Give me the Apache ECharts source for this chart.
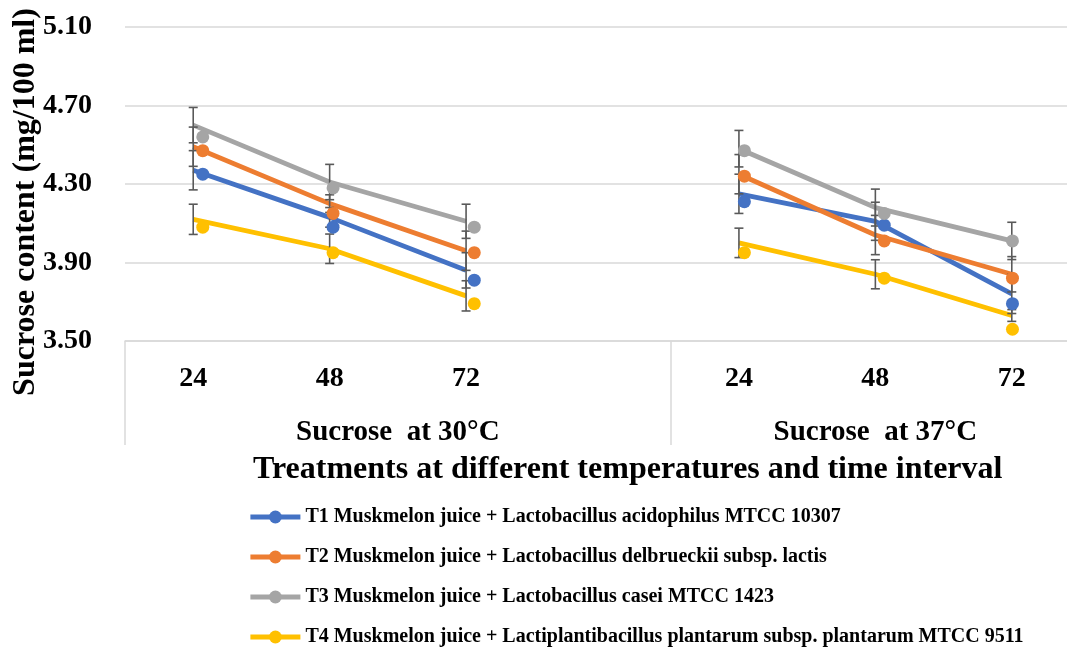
<!DOCTYPE html>
<html lang="en">
<head>
<meta charset="UTF-8">
<title>sucrose</title>
<script src="https://cdn.jsdelivr.net/npm/echarts@6.0.0/dist/echarts.min.js"></script>
<style>html,body{margin:0;padding:0;background:#fff;}</style>
</head>
<body>
<div id="main" style="width:1067px;height:647px;"></div>
<script type="text/javascript">
// category slots: 24,48,72 at 30°C, one empty slot, then 24,48,72 at 37°C
var hours = ['24', '48', '72', '', '24', '48', '72'];
var groups = ['Sucrose  at 30°C', 'Sucrose  at 37°C'];
var names = [
    'T1 Muskmelon juice + Lactobacillus acidophilus MTCC 10307',
    'T2 Muskmelon juice + Lactobacillus delbrueckii subsp. lactis',
    'T3 Muskmelon juice + Lactobacillus casei MTCC 1423',
    'T4 Muskmelon juice + Lactiplantibacillus plantarum subsp. plantarum MTCC 9511'
];
var colors = ['#4472C4', '#ED7D31', '#A5A5A5', '#FFC000'];

// x slot of each point (line + error bar) and of the round markers
var linePos = [0, 1, 2, 4, 5, 6];
var markPos = [0.07, 1.025, 2.06, 4.04, 5.065, 6.005];

var t1Line = [4.37, 4.13, 3.86, 4.25, 4.11, 3.74];
var t1Mark = [4.35, 4.08, 3.81, 4.21, 4.09, 3.69];
var t1Err  = [0.10, 0.05, 0.09, 0.10, 0.097, 0.10];

var t2Line = [4.49, 4.20, 3.96, 4.35, 4.04, 3.84];
var t2Mark = [4.47, 4.15, 3.95, 4.34, 4.01, 3.82];
var t2Err  = [0.10, 0.045, 0.10, 0.10, 0.10, 0.09];

var t3Line = [4.60, 4.31, 4.11, 4.48, 4.18, 4.01];
var t3Mark = [4.54, 4.28, 4.08, 4.47, 4.15, 4.01];
var t3Err  = [0.09, 0.09, 0.087, 0.093, 0.094, 0.095];

var t4Line = [4.12, 3.97, 3.73, 4.00, 3.84, 3.63];
var t4Mark = [4.08, 3.95, 3.69, 3.95, 3.82, 3.56];
var t4Err  = [0.077, 0.075, 0.077, 0.075, 0.074, 0.03];

var lines = [t1Line, t2Line, t3Line, t4Line];
var marks = [t1Mark, t2Mark, t3Mark, t4Mark];
var errs = [t1Err, t2Err, t3Err, t4Err];

var font = 'Liberation Serif';
var myChart = echarts.init(document.getElementById('main'));

var series = [];
var errData = [];
for (var s = 0; s < 4; s++) {
    var lineData = [];
    for (var i = 0; i < linePos.length; i++) {
        // break the line between the two temperature groups
        if (i > 0 && linePos[i] - linePos[i - 1] > 1) lineData.push([linePos[i] - 1, '-']);
        lineData.push([linePos[i], lines[s][i]]);
        errData.push([linePos[i], lines[s][i] - errs[s][i], lines[s][i] + errs[s][i]]);
    }
    series.push({
        name: names[s],
        type: 'line',
        xAxisIndex: 1,
        data: lineData,
        connectNulls: false,
        symbol: 'circle',
        showSymbol: false,
        color: colors[s],
        lineStyle: {width: 4.8, color: colors[s]},
        itemStyle: {color: colors[s]},
        z: 2
    });
}
series.push({
    type: 'custom',
    xAxisIndex: 1,
    data: errData,
    encode: {x: 0, y: [1, 2]},
    clip: false,
    z: 3,
    renderItem: function (params, api) {
        var lo = api.coord([api.value(0), api.value(1)]);
        var hi = api.coord([api.value(0), api.value(2)]);
        var x = lo[0], cap = 4.5;
        var st = {stroke: '#595959', lineWidth: 1.6};
        return {
            type: 'group',
            children: [
                {type: 'line', shape: {x1: x, y1: hi[1], x2: x, y2: lo[1]}, style: st},
                {type: 'line', shape: {x1: x - cap, y1: hi[1], x2: x + cap, y2: hi[1]}, style: st},
                {type: 'line', shape: {x1: x - cap, y1: lo[1], x2: x + cap, y2: lo[1]}, style: st}
            ]
        };
    }
});
for (var s2 = 0; s2 < 4; s2++) {
    var md = [];
    for (var j = 0; j < markPos.length; j++) md.push([markPos[j], marks[s2][j]]);
    series.push({
        name: names[s2],
        type: 'scatter',
        xAxisIndex: 1,
        data: md,
        symbol: 'circle',
        symbolSize: 13,
        itemStyle: {color: colors[s2], opacity: 1},
        z: 4
    });
}

var option = {
    animation: false,
    backgroundColor: '#fff',
    title: {
        text: 'Treatments at different temperatures and time interval',
        left: 253,
        top: 454,
        padding: 0,
        textStyle: {fontFamily: font, fontWeight: 'bold', fontSize: 32, color: '#000'}
    },
    legend: {
        data: names,
        orient: 'vertical',
        left: 248,
        top: 506,
        height: 170,
        itemWidth: 50,
        itemHeight: 16,
        itemGap: 18,
        padding: 0,
        lineStyle: {width: 4.8},
        textStyle: {fontFamily: font, fontWeight: 'bold', fontSize: 20, color: '#000', lineHeight: 22}
    },
    grid: {left: 125, top: 27, width: 955, height: 314, containLabel: false, outerBoundsMode: 'none'},
    xAxis: [
        {
            type: 'category',
            data: hours,
            position: 'bottom',
            boundaryGap: true,
            axisLine: {show: true, lineStyle: {color: '#D9D9D9', width: 1.5}},
            axisTick: {show: false},
            axisLabel: {interval: 0, margin: 24, fontFamily: font, fontWeight: 'bold', fontSize: 28, color: '#000'},
            splitLine: {show: false}
        },
        {
            type: 'value',
            min: -0.5,
            max: 6.5,
            position: 'bottom',
            axisLine: {show: false},
            axisTick: {show: true, customValues: [-0.5, 3.5, 6.5], length: 104, lineStyle: {color: '#D9D9D9', width: 1.5}},
            axisLabel: {
                customValues: [1.5, 5],
                margin: 77,
                fontFamily: font, fontWeight: 'bold', fontSize: 29, color: '#000',
                formatter: function (v) { return v < 3.5 ? groups[0] : groups[1]; }
            },
            splitLine: {show: false}
        }
    ],
    yAxis: {
        type: 'value',
        min: 3.5,
        max: 5.1,
        interval: 0.4,
        name: 'Sucrose content (mg/100 ml)',
        nameLocation: 'middle',
        nameGap: 83,
        nameMoveOverlap: false,
        nameRotate: 90,
        nameTextStyle: {fontFamily: font, fontWeight: 'bold', fontSize: 32, color: '#000', padding: [0, 36, 0, 0]},
        axisLine: {show: false},
        axisTick: {show: false},
        axisLabel: {
            margin: 33, fontFamily: font, fontWeight: 'bold', fontSize: 28, color: '#000',
            formatter: function (v) { return v.toFixed(2); }
        },
        splitLine: {lineStyle: {color: '#D9D9D9', width: 1.5}}
    },
    series: series
};
myChart.setOption(option);
</script>
</body>
</html>
